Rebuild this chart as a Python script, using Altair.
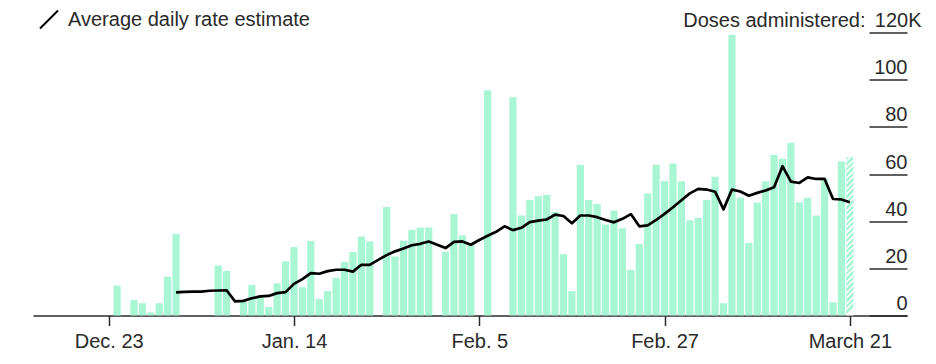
import altair as alt
import pandas as pd

# ---------------- data ----------------
first_day = "2020-12-24"
last_day = "2021-03-21"
days = pd.date_range(first_day, last_day, freq="D").strftime("%Y-%m-%d").tolist()

# daily doses administered (thousands); None = no report that day
doses = [
    12.7, None, 6.6, 5.2, 1.3, 5.2, 16.5, 34.6, None, None,      # Dec 24 - Jan 2
    None, None, 21.2, 18.9, None, 5.9, 13.0, 8.5, 3.6, 13.6,     # Jan 3 - Jan 12
    23.0, 29.0, 12.0, 31.6, 7.0, 10.4, 16.0, 22.7, 26.9, 33.5,   # Jan 13 - Jan 22
    31.4, None, 46.0, 25.0, 31.7, 36.3, 37.3, 37.3, None, 27.0,  # Jan 23 - Feb 1
    43.0, 34.0, 30.0, None, 95.5, None, None, 92.5, 42.4, 49.0,  # Feb 2 - Feb 11
    50.6, 51.1, 44.0, 26.0, 10.3, 63.9, 49.0, 47.3, 38.6, 44.5,  # Feb 12 - Feb 21
    37.0, 19.4, 30.4, 51.7, 63.9, 57.0, 64.4, 56.9, 40.4, 41.4,  # Feb 22 - Mar 3
    49.0, 58.8, 5.2, 119.0, 50.0, 30.8, 47.9, 56.9, 68.1, 66.4,  # Mar 4 - Mar 13
    73.2, 48.0, 49.9, 42.4, 58.0, 5.6, 65.3, 67.1,               # Mar 14 - Mar 21
]

# average daily rate estimate (thousands)
avg = [
    None, None, None, None, None, None, None, 9.8, 10.0, 10.1,   # Dec 24 - Jan 2
    10.1, 10.5, 10.6, 10.7, 6.0, 6.2, 7.3, 8.1, 8.3, 9.5,        # Jan 3 - Jan 12
    9.9, 13.4, 15.4, 18.0, 17.7, 18.8, 19.4, 19.4, 18.6, 21.5,   # Jan 13 - Jan 22
    21.5, 23.6, 25.6, 27.2, 28.4, 29.8, 30.4, 31.4, 30.0, 28.6,  # Jan 23 - Feb 1
    31.2, 31.4, 30.0, 32.0, 33.8, 35.5, 37.8, 36.2, 37.2, 39.6,  # Feb 2 - Feb 11
    40.2, 40.7, 42.8, 42.2, 39.1, 42.4, 42.4, 41.7, 40.5, 39.5,  # Feb 12 - Feb 21
    41.0, 43.0, 37.8, 38.2, 40.5, 43.1, 45.9, 48.9, 51.8, 53.7,  # Feb 22 - Mar 3
    53.4, 52.5, 45.0, 53.4, 52.6, 50.8, 52.0, 53.0, 54.4, 63.3,  # Mar 4 - Mar 13
    56.8, 56.2, 58.6, 57.9, 57.9, 49.4, 49.2, 48.0,              # Mar 14 - Mar 21
]

# the last day is a partial (estimated) count
partial_days = ["2021-03-21"]

series_name = "Average daily rate estimate"
y_title = "Doses administered:"
y_ticks = [0, 20, 40, 60, 80, 100, 120]
x_tick_dates = [(2020, 12, 23), (2021, 1, 14), (2021, 2, 5), (2021, 2, 27), (2021, 3, 21)]
month_labels = ["Jan.", "Feb.", "March", "April", "May", "June", "July",
                "Aug.", "Sept.", "Oct.", "Nov.", "Dec."]

df = pd.DataFrame({"date": days, "doses": doses, "avg": avg})
df["series"] = series_name
df["partial"] = df["date"].isin(partial_days)

# ---------------- style ----------------
FONT = "Liberation Sans"
DARK = "#2a2a2a"
GREEN = "#a8f6d4"
W, H = 874, 283
BAR_W = 7.2

# striped fill for the partial bar
part_val = float(df.loc[df["partial"], "doses"].iloc[0])
bar_px = part_val * H / 120.0
n_stripes = max(4, round(bar_px / 5.5))
stops = []
for i in range(n_stripes):
    a = i / n_stripes
    b = (i + 0.62) / n_stripes
    c = (i + 1) / n_stripes
    stops += [
        alt.GradientStop(offset=a, color=GREEN),
        alt.GradientStop(offset=b, color=GREEN),
        alt.GradientStop(offset=b, color="white"),
        alt.GradientStop(offset=c, color="white"),
    ]
hatch = alt.LinearGradient(gradient="linear", x1=0, y1=0, x2=BAR_W / bar_px, y2=1, stops=stops)

label_expr = (
    str(month_labels).replace('"', "'")
    + "[utcmonth(datum.value)] + ' ' + utcdate(datum.value)"
)

x_enc = alt.X(
    "date:T",
    title=None,
    scale=alt.Scale(
        type="utc",
        domain=[
            alt.DateTime(year=2020, month=12, date=14, hours=14, minutes=38, utc=True),
            alt.DateTime(year=2021, month=3, date=27, hours=4, minutes=34, utc=True),
        ],
    ),
    axis=alt.Axis(
        values=[alt.DateTime(year=y, month=m, date=d, utc=True) for (y, m, d) in x_tick_dates],
        labelExpr=label_expr,
        grid=False,
        domainColor=DARK,
        domainWidth=1.5,
        tickColor=DARK,
        tickWidth=1.5,
        tickSize=10,
        labelFont=FONT,
        labelFontSize=20,
        labelColor=DARK,
        labelPadding=6,
        labelFlush=False,
        labelOverlap=False,
    ),
)

y_axis = alt.Axis(
    orient="right",
    offset=-38,
    values=y_ticks,
    grid=False,
    domain=False,
    tickSize=38,
    tickWidth=1.5,
    tickColor=DARK,
    labelAlign="right",
    labelBaseline="alphabetic",
    labelOffset=-6,
    labelPadding={"condition": {"test": "datum.value == 120", "value": 14}, "value": 0},
    labelExpr="datum.value == 120 ? '120K' : datum.label",
    labelFont=FONT,
    labelFontSize=20,
    labelColor=DARK,
    labelFlush=False,
    labelOverlap=False,
    title=y_title,
    titleAngle=0,
    titleAlign="right",
    titleBaseline="alphabetic",
    titleX=-4,
    titleY=-6,
    titleFont=FONT,
    titleFontSize=20,
    titleFontWeight="normal",
    titleColor=DARK,
)
y_scale = alt.Scale(domain=[0, 120], nice=False)

base = alt.Chart(df)

bars = base.transform_filter("isValid(datum.doses) && !datum.partial").mark_bar(
    width=BAR_W, color=GREEN
).encode(x=x_enc, y=alt.Y("doses:Q", scale=y_scale, axis=y_axis))

partial_bar = base.transform_filter("datum.partial").mark_bar(
    width=BAR_W, color=hatch
).encode(x=x_enc, y=alt.Y("doses:Q", scale=y_scale, axis=y_axis))

line = base.transform_filter("isValid(datum.avg)").mark_line(
    strokeWidth=2.7, strokeJoin="round"
).encode(
    x=x_enc,
    y=alt.Y("avg:Q", scale=y_scale, axis=y_axis),
    color=alt.Color(
        "series:N",
        scale=alt.Scale(domain=[series_name], range=["#000000"]),
        legend=alt.Legend(
            title=None,
            orient="none",
            legendX=6,
            legendY=-23,
            padding=0,
            symbolType="M-1,1L1,-1",
            symbolSize=324,
            symbolStrokeWidth=2,
            symbolFillColor="transparent",
            labelFont=FONT,
            labelFontSize=20,
            labelColor=DARK,
            labelOffset=9,
            labelLimit=500,
        ),
    ),
)

chart = (
    alt.layer(bars, partial_bar, line)
    .properties(
        width=W,
        height=H,
        padding={"left": 25, "top": 24.5, "right": 20, "bottom": 45},
        autosize=alt.AutoSizeParams(type="none"),
    )
    .configure_view(strokeWidth=0)
)

chart.save("out.html", embed_options={"renderer": "svg", "actions": False})
